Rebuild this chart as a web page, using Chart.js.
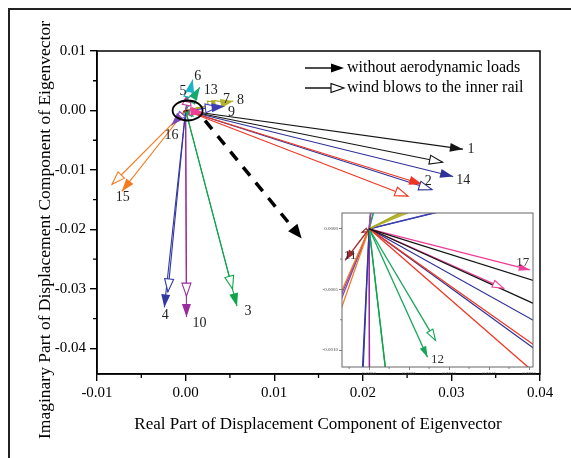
<!DOCTYPE html>
<html>
<head>
<meta charset="utf-8">
<script src="https://cdn.jsdelivr.net/npm/chart.js@4.4.0/dist/chart.umd.min.js"></script>
<style>
  html, body { margin: 0; padding: 0; background: #fff; }
  #wrap { position: relative; width: 571px; height: 458px; overflow: hidden; }
  #main { position: absolute; left: 0; top: 0; }
  #inset { position: absolute; left: 318px; top: 203px; }
</style>
</head>
<body>
<div id="wrap">
  <canvas id="main" width="571" height="458"></canvas>
  <canvas id="inset" width="222" height="180"></canvas>
</div>
<script>
// mode numbers and the tips of the eigenvector arrows (real, imaginary)
const modes  = ['1','2','3','4','5','6','7','8','9','10','11','12','13','14','15','16','17'];
const calmRe = [0.0313, 0.0267, 0.0058, -0.0024, 0.0005, 0.0008, 0.0044, 0.0054, 0.0044, 0.0001, -0.0003, 0.00073, 0.0016, 0.0302, -0.0072, -0.0016, 0.00201];
const calmIm = [-0.0065, -0.0124, -0.0329, -0.0331, 0.0035, 0.0052, 0.0015, 0.0016, 0.0007, -0.0347, -0.00026, -0.00106, 0.0039, -0.0111, -0.0136, -0.0025, -0.00034];
const windRe = [0.0290, 0.0251, 0.0053, -0.0020, 0.0004, 0.0006, 0.0040, 0.0048, 0.0037, 0.0001, -0.00009, 0.00083, 0.0013, 0.0278, -0.0083, -0.0012, 0.00168];
const windIm = [-0.0087, -0.0144, -0.0300, -0.0305, 0.0030, 0.0044, 0.0013, 0.0013, 0.0006, -0.0312, -0.00003, -0.00092, 0.0034, -0.0133, -0.0124, -0.0020, -0.00049];

const xTicks = [-0.01, 0, 0.01, 0.02, 0.03, 0.04];
const xTickLabels = ['-0.01','0.00','0.01','0.02','0.03','0.04'];
const yTicks = [-0.04, -0.03, -0.02, -0.01, 0, 0.01];
const yTickLabels = ['-0.04','-0.03','-0.02','-0.01','0.00','0.01'];
const insetXTicks = [0, 0.0005, 0.0010, 0.0015, 0.0020];
const insetXTickLabels = ['0.0000','0.0005','0.0010','0.0015','0.0020'];
const insetYTicks = [-0.0010, -0.0005, 0];
const insetYTickLabels = ['-0.0010','-0.0005','0.0000'];

const legendLabels = ['without aerodynamic loads', 'wind blows to the inner rail'];

const colors = ['#151515','#f03622','#10a34c','#3338a3','#c0389c','#1db3c6','#a9a91f','#b4b22a','#3c3fb4','#9a2b9e',
                '#a3262a','#16a55a','#17a872','#2f3298','#f47a20','#7a48b8','#ee3d96'];
// label offsets (px) from the filled tip; null = label not shown in that panel
const mainLabelOff = [[8,0],[6,-3],[11,5],[1,8],[-7,2],[5,-3],[2,-2],[7,-1],[7,6],[13,6],null,null,[11,3],[10,4],[1,6],[0,10],null];
const insetLabelOff = {10:[5,-5], 11:[10,2], 16:[-7,-7]};

const SERIF = "'Liberation Serif', 'Times New Roman', serif";

function buildDatasets(lw) {
  const out = [];
  modes.forEach((m, i) => {
    out.push({ data: [{x:0,y:0},{x:windRe[i],y:windIm[i]}], borderColor: colors[i], borderWidth: lw, arrow: 'hollow' });
    out.push({ data: [{x:0,y:0},{x:calmRe[i],y:calmIm[i]}], borderColor: colors[i], borderWidth: lw, arrow: 'filled' });
  });
  return out;
}

function head(ctx, x0, y0, x1, y1, color, hollow, len, half) {
  const d = Math.hypot(x1-x0, y1-y0);
  if (d < 0.5) return;
  const L = Math.min(len, d*0.7), H = half * L / len;
  ctx.save();
  ctx.translate(x1, y1);
  ctx.rotate(Math.atan2(y1-y0, x1-x0));
  ctx.beginPath();
  ctx.moveTo(0,0); ctx.lineTo(-L, H); ctx.lineTo(-L, -H); ctx.closePath();
  if (hollow) {
    ctx.fillStyle = '#fff'; ctx.fill();
    ctx.strokeStyle = color; ctx.lineWidth = 1.1; ctx.stroke();
  } else {
    ctx.fillStyle = color; ctx.fill();
  }
  ctx.restore();
}

const arrowHeads = {
  id: 'arrowHeads',
  afterDatasetsDraw(chart, args, opts) {
    const {ctx, chartArea: a} = chart;
    ctx.save();
    ctx.beginPath(); ctx.rect(a.left, a.top, a.width, a.height); ctx.clip();
    chart.data.datasets.forEach((ds, i) => {
      const p = chart.getDatasetMeta(i).data;
      head(ctx, p[0].x, p[0].y, p[1].x, p[1].y, ds.borderColor, ds.arrow === 'hollow', opts.len, opts.half);
    });
    ctx.restore();
  }
};

function minorTicks(chart, xs, ys, len, color, w) {
  const {ctx, chartArea: a, scales} = chart;
  ctx.save();
  ctx.strokeStyle = color; ctx.lineWidth = w;
  ctx.beginPath();
  xs.forEach(v => { const px = scales.x.getPixelForValue(v); ctx.moveTo(px, a.bottom); ctx.lineTo(px, a.bottom + len); });
  ys.forEach(v => { const py = scales.y.getPixelForValue(v); ctx.moveTo(a.left, py); ctx.lineTo(a.left - len, py); });
  ctx.stroke();
  ctx.restore();
}

const mainDecor = {
  id: 'mainDecor',
  afterDraw(chart) {
    const {ctx, chartArea: a, scales: {x, y}} = chart;
    // frame
    ctx.save();
    ctx.strokeStyle = '#000'; ctx.lineWidth = 1.5;
    ctx.strokeRect(a.left, a.top, a.width, a.height);
    ctx.restore();
    minorTicks(chart, [-0.005,0.005,0.015,0.025,0.035], [0.005,-0.005,-0.015,-0.025,-0.035], 4, '#000', 1.3);

    // mode numbers
    ctx.save();
    ctx.fillStyle = '#222';
    ctx.font = '14px ' + SERIF;
    ctx.textAlign = 'center'; ctx.textBaseline = 'middle';
    modes.forEach((m, i) => {
      const off = mainLabelOff[i];
      if (!off) return;
      ctx.fillText(m, x.getPixelForValue(calmRe[i]) + off[0], y.getPixelForValue(calmIm[i]) + off[1]);
    });
    ctx.restore();

    // circle round the origin
    const ox = x.getPixelForValue(0), oy = y.getPixelForValue(0);
    ctx.save();
    ctx.strokeStyle = '#000'; ctx.lineWidth = 1.8;
    ctx.beginPath(); ctx.ellipse(ox + 2, oy, 15, 10, 0, 0, Math.PI*2); ctx.stroke();
    // dashed pointer to the zoomed panel
    const sx = x.getPixelForValue(0.0022), sy = y.getPixelForValue(-0.0017);
    const ex = x.getPixelForValue(0.0131), ey = y.getPixelForValue(-0.0215);
    ctx.lineWidth = 3.5; ctx.setLineDash([11, 9]);
    ctx.beginPath(); ctx.moveTo(sx, sy); ctx.lineTo(ex - 6, ey - 7); ctx.stroke();
    ctx.setLineDash([]);
    head(ctx, sx, sy, ex, ey, '#000', false, 14, 6);
    ctx.restore();

    // legend
    ctx.save();
    ctx.strokeStyle = '#000'; ctx.lineWidth = 1.4;
    [68, 88].forEach((ly, k) => {
      ctx.beginPath(); ctx.moveTo(305, ly); ctx.lineTo(332, ly); ctx.stroke();
      head(ctx, 305, ly, 344, ly, '#000', k === 1, 13, 4.5);
      ctx.fillStyle = '#000';
      ctx.font = '16px ' + SERIF;
      ctx.textAlign = 'left'; ctx.textBaseline = 'middle';
      ctx.fillText(legendLabels[k], 347, ly);
    });
    ctx.restore();

    // axis titles
    ctx.save();
    ctx.fillStyle = '#000';
    ctx.font = '17px ' + SERIF;
    ctx.textAlign = 'center'; ctx.textBaseline = 'middle';
    ctx.fillText('Real Part of Displacement Component of Eigenvector', 318, 425);
    ctx.font = '17.5px ' + SERIF;
    ctx.translate(45, 230); ctx.rotate(-Math.PI/2);
    ctx.fillText('Imaginary Part of Displacement Component of Eigenvector', 0, 0);
    ctx.restore();

    // outer figure frame
    ctx.save();
    ctx.strokeStyle = '#222'; ctx.lineWidth = 2;
    ctx.beginPath(); ctx.moveTo(9, 458); ctx.lineTo(9, 9); ctx.lineTo(571, 9); ctx.stroke();
    ctx.restore();
  }
};

new Chart(document.getElementById('main'), {
  type: 'line',
  data: { datasets: buildDatasets(1.1) },
  options: {
    responsive: false, animation: false, events: [],
    layout: { padding: { top: 51, right: 31, left: 0, bottom: 0 } },
    elements: { point: { radius: 0 }, line: { tension: 0 } },
    plugins: { legend: { display: false }, tooltip: { enabled: false }, arrowHeads: { len: 13, half: 4.5 } },
    scales: {
      x: {
        type: 'linear', min: -0.01, max: 0.04,
        afterFit: s => { s.height = 84; },
        afterBuildTicks: s => { s.ticks = xTicks.map(v => ({ value: v })); },
        ticks: { callback: (v, i) => xTickLabels[i], color: '#000', font: { family: SERIF, size: 15 }, padding: 3, maxRotation: 0, autoSkip: false },
        grid: { drawOnChartArea: false, tickLength: 7, color: '#000', lineWidth: 1.4 },
        border: { color: '#000', width: 1.5 }
      },
      y: {
        type: 'linear', min: -0.0443, max: 0.01,
        afterFit: s => { s.width = 97; },
        afterBuildTicks: s => { s.ticks = yTicks.map(v => ({ value: v })); },
        ticks: { callback: (v, i) => yTickLabels[i], color: '#000', font: { family: SERIF, size: 15 }, padding: 4, autoSkip: false },
        grid: { drawOnChartArea: false, tickLength: 7, color: '#000', lineWidth: 1.4 },
        border: { color: '#000', width: 1.5 }
      }
    }
  },
  plugins: [arrowHeads, mainDecor]
});

const insetDecor = {
  id: 'insetDecor',
  beforeDatasetsDraw(chart) {
    const {ctx, chartArea: a} = chart;
    ctx.save(); ctx.fillStyle = '#fff'; ctx.fillRect(a.left, a.top, a.width, a.height); ctx.restore();
  },
  afterDraw(chart) {
    const {ctx, chartArea: a, scales: {x, y}} = chart;
    ctx.save();
    ctx.strokeStyle = '#666'; ctx.lineWidth = 1;
    ctx.strokeRect(a.left, a.top, a.width, a.height);
    ctx.restore();
    minorTicks(chart, [-0.00025, 0.00025, 0.00075, 0.00125, 0.00175], [-0.00075, -0.00025], 2, '#666', 0.8);
    ctx.save();
    ctx.fillStyle = '#333';
    ctx.font = '13px ' + SERIF;
    ctx.textAlign = 'center'; ctx.textBaseline = 'middle';
    Object.keys(insetLabelOff).forEach(k => {
      const i = +k, off = insetLabelOff[k];
      ctx.fillText(modes[i], x.getPixelForValue(calmRe[i]) + off[0], y.getPixelForValue(calmIm[i]) + off[1]);
    });
    ctx.restore();
  }
};

new Chart(document.getElementById('inset'), {
  type: 'line',
  data: { datasets: buildDatasets(1.3) },
  options: {
    responsive: false, animation: false, events: [],
    layout: { padding: { top: 10, right: 7, left: 0, bottom: 0 } },
    elements: { point: { radius: 0 }, line: { tension: 0 } },
    plugins: { legend: { display: false }, tooltip: { enabled: false }, arrowHeads: { len: 11, half: 3.5 } },
    scales: {
      x: {
        type: 'linear', min: -0.00034, max: 0.00205,
        afterFit: s => { s.height = 16; },
        afterBuildTicks: s => { s.ticks = insetXTicks.map(v => ({ value: v })); },
        ticks: { callback: (v, i) => insetXTickLabels[i], color: '#444', font: { family: SERIF, size: 5 }, padding: 1, maxRotation: 0, autoSkip: false },
        grid: { drawOnChartArea: false, tickLength: 3, color: '#666', lineWidth: 0.8 },
        border: { display: false }
      },
      y: {
        type: 'linear', min: -0.00114, max: 0.00013,
        afterFit: s => { s.width = 24; },
        afterBuildTicks: s => { s.ticks = insetYTicks.map(v => ({ value: v })); },
        ticks: { callback: (v, i) => insetYTickLabels[i], color: '#444', font: { family: SERIF, size: 5 }, padding: 1, autoSkip: false },
        grid: { drawOnChartArea: false, tickLength: 3, color: '#666', lineWidth: 0.8 },
        border: { display: false }
      }
    }
  },
  plugins: [insetDecor, arrowHeads]
});
</script>
</body>
</html>
